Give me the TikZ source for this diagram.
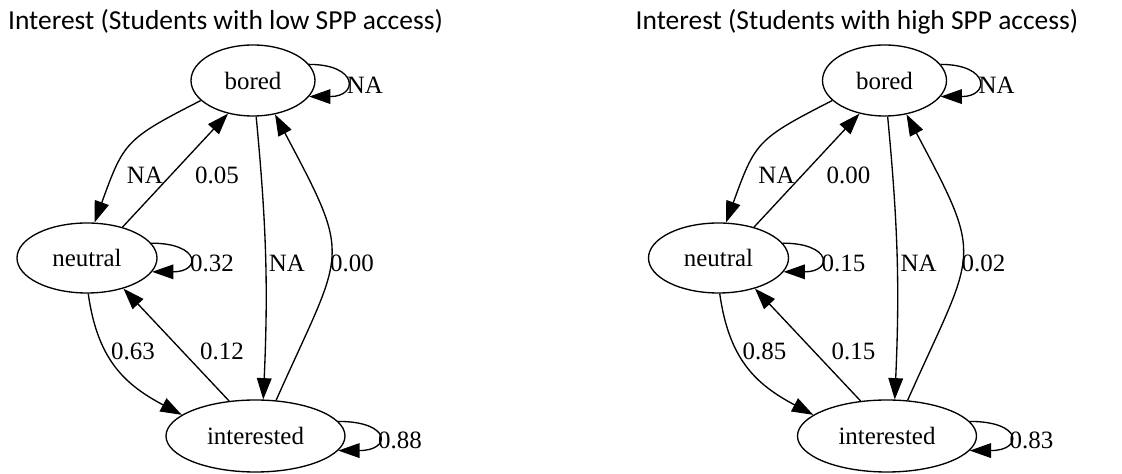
\documentclass[tikz,border=0pt]{standalone}
\usepackage{fontspec}
\setmainfont{Liberation Serif}
\newfontfamily\titlefont{Carlito}
\usetikzlibrary{arrows.meta,shapes.geometric}

\begin{document}
\begin{tikzpicture}[x=0.75pt, y=0.75pt,
  every node/.style = {font=\fontsize{18.7}{22}\selectfont},
  state/.style = {shape=ellipse, draw, line width=1pt, inner sep=0pt},
  prob/.style = {inner sep=0pt},
  title/.style = {font=\titlefont\fontsize{20.6}{24}\selectfont, inner sep=0pt},
  trans/.style = {draw, line width=1pt, -{Triangle[length=16pt,width=11pt]}}]
  \useasboundingbox (0,0) rectangle (1122,474);
  \foreach \g/\dx/\who/\nb/\ib/\nn/\nint/\intn/\pii in
    {L/0/low/0.05/0.00/0.32/0.63/0.12/0.88,
     H/631.5/high/0.00/0.02/0.15/0.85/0.15/0.83} {
  \begin{scope}[shift={(\dx,0)}]
    \node[title] (title-\g) at (225.5,452.5) {Interest (Students with \who\ SPP access)};
    % states
    \node[state, minimum width=93pt, minimum height=53.25pt] (bored-\g) at (253,393.5) {bored};
    \node[state, minimum width=105pt, minimum height=52.5pt] (neutral-\g) at (87,216) {neutral};
    \node[state, minimum width=134.25pt, minimum height=54pt] (interested-\g) at (255.5,38) {interested};
    % transitions
    \draw[trans] (bored-\g.201) to[out=207, in=70, looseness=1.35] (neutral-\g.78);
    \draw[trans] (neutral-\g.41) -- (bored-\g.233);
    \draw[trans] (bored-\g.-85) to[bend left=4] (interested-\g.78);
    \draw[trans] (interested-\g.60) to[out=66, in=-62, looseness=1.5] (bored-\g.-57);
    \draw[trans] (neutral-\g.-88) to[out=-82, in=152, looseness=1.1] (interested-\g.164);
    \draw[trans] (interested-\g.127) -- (neutral-\g.-40);
    \draw[trans] (bored-\g.16) to[out=0, in=0, distance=37pt] (bored-\g.-16);
    \draw[trans] (neutral-\g.13) to[out=0, in=0, distance=37pt] (neutral-\g.-12);
    \draw[trans] (interested-\g.10) to[out=0, in=0, distance=40pt] (interested-\g.-10);
    % probabilities
    \node[prob] (p-bb-\g) at (365,389) {NA};
    \node[prob] (p-bn-\g) at (145,299) {NA};
    \node[prob] (p-nb-\g) at (217,299) {\nb};
    \node[prob] (p-bi-\g) at (287,211) {NA};
    \node[prob] (p-ib-\g) at (352,211) {\ib};
    \node[prob] (p-nn-\g) at (212,211) {\nn};
    \node[prob] (p-ni-\g) at (133,123) {\nint};
    \node[prob] (p-in-\g) at (222,123) {\intn};
    \node[prob] (p-ii-\g) at (400,34) {\pii};
  \end{scope}
  }
\end{tikzpicture}
\end{document}
